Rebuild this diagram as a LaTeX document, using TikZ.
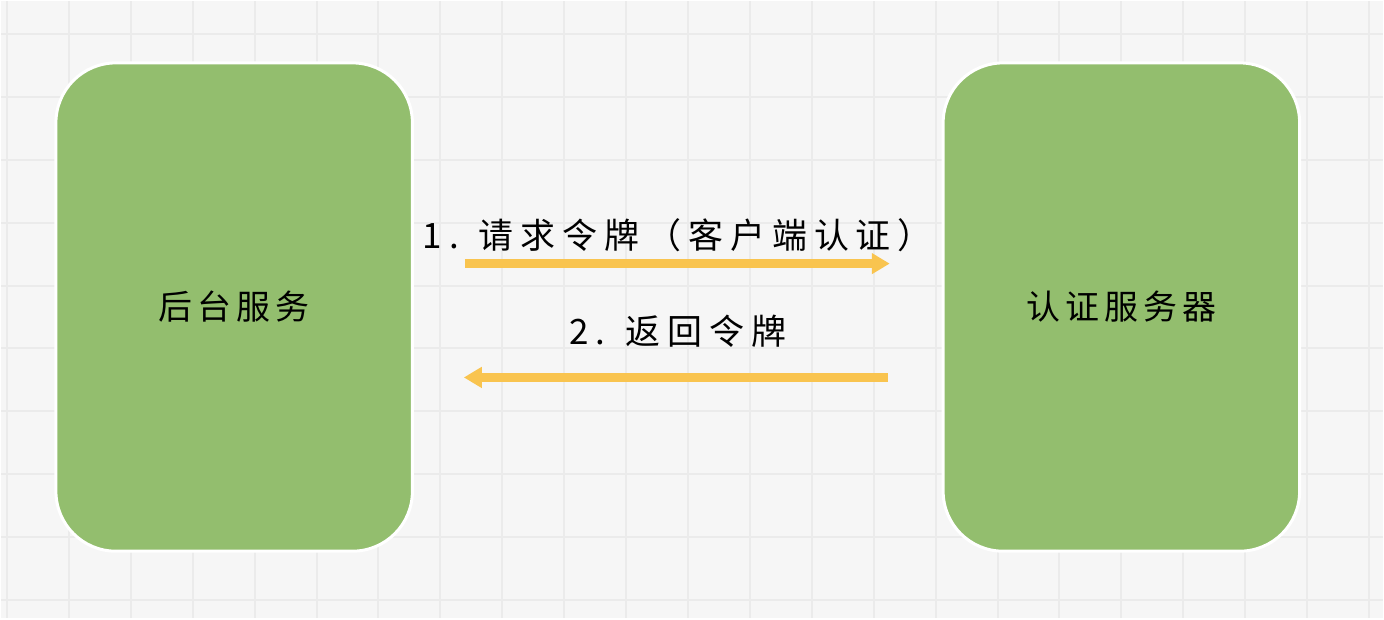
\documentclass[tikz,border=0pt]{standalone}
\usepackage{fontspec}
\setmainfont{Noto Sans CJK SC}
\usetikzlibrary{arrows.meta}
\definecolor{boxgreen}{HTML}{93BE6E}
\definecolor{arrowyellow}{HTML}{F9C44F}
\definecolor{gridbg}{HTML}{F6F6F6}
\definecolor{gridline}{HTML}{EBEBEB}

\begin{document}
\begin{tikzpicture}[x=1pt,y=1pt,
    service/.style={draw=white,line width=3pt,fill=boxgreen,rounded corners=60pt,
                    minimum width=357pt,minimum height=489pt,
                    font=\fontsize{34}{38}\selectfont\addfontfeatures{LetterSpace=15}},
    flow/.style={arrowyellow,line width=9pt,-{Triangle[length=18pt,width=20pt]}},
    flowlabel/.style={text=black,font=\fontsize{35}{40}\selectfont\addfontfeatures{LetterSpace=20}}]
    %background grid
    \fill[gridbg] (0,0) rectangle (1384,618);
    \foreach \x in {6,68,...,1384} \draw[gridline,line width=2pt] (\x,0) -- (\x,618);
    \foreach \y in {33,96,...,618} \draw[gridline,line width=2pt] (0,618-\y) -- (1384,618-\y);
    \useasboundingbox (0,0) rectangle (1384,618);

    %services
    \node[service] (backend) at (233.5,311.5) {后台服务};
    \node[service] (authserver) at (1122,311.5) {认证服务器};

    %request token
    \draw[flow,shorten <=51pt,shorten >=52pt] ([yshift=43.5pt]backend.east) -- 
        node[flowlabel,above=4pt] (request) {1. 请求令牌（客户端认证）} ([yshift=43.5pt]authserver.west);

    %return token
    \draw[flow,shorten <=54pt,shorten >=50pt] ([yshift=-70.5pt]authserver.west) -- 
        node[flowlabel,above=22pt] (reply) {2. 返回令牌} ([yshift=-70.5pt]backend.east);
\end{tikzpicture}
\end{document}
